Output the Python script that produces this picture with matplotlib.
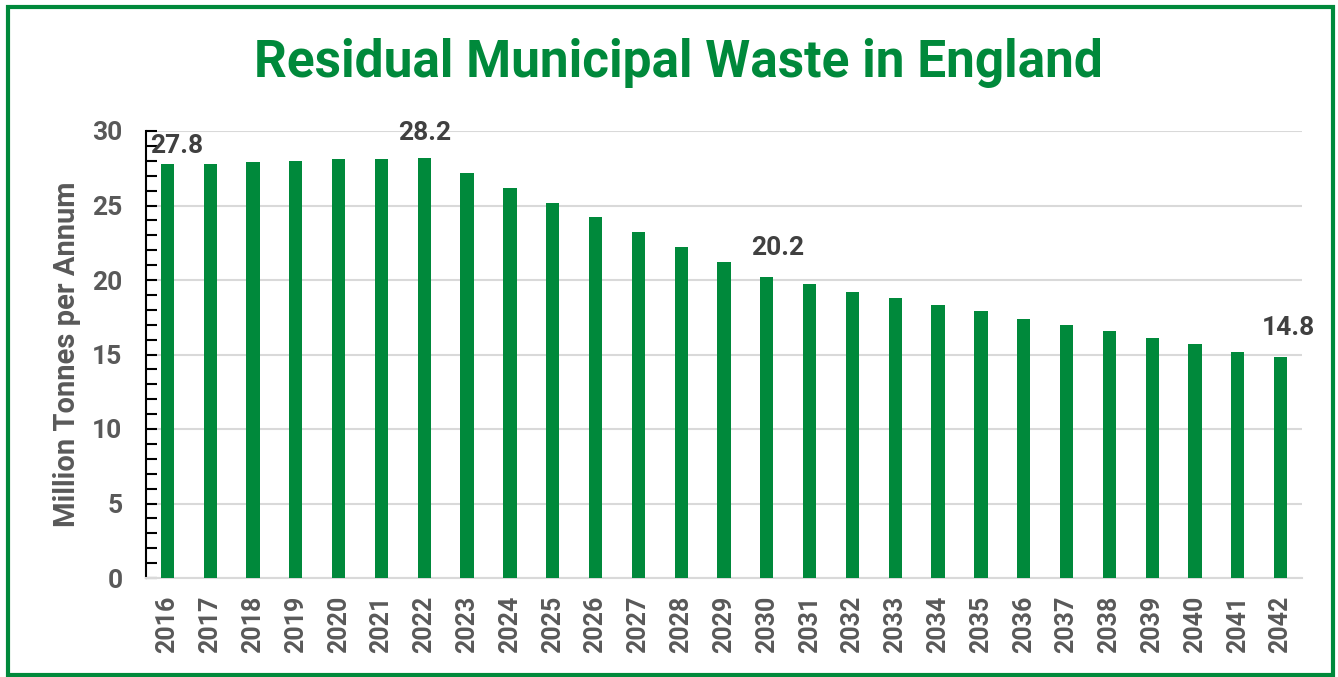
import numpy as np
import matplotlib.pyplot as plt
from matplotlib.patches import Rectangle
from matplotlib.ticker import MultipleLocator

years = [str(y) for y in range(2016, 2043)]
waste = [27.8, 27.8, 27.9, 28.0, 28.1, 28.1, 28.2, 27.2, 26.2, 25.2,
         24.2, 23.2, 22.2, 21.2, 20.2, 19.7, 19.2, 18.8, 18.3, 17.9,
         17.4, 17.0, 16.6, 16.1, 15.7, 15.2, 14.8]
# labelled bars: (year, text, x offset, y offset) in points
labels = [("2016", "27.8", 7, 13), ("2022", "28.2", 0, 18),
          ("2030", "20.2", 8, 21), ("2042", "14.8", 6, 21)]

green = '#00893B'
grey = '#595959'
plt.rcParams['font.family'] = ['Roboto', 'DejaVu Sans']

fig = plt.figure(figsize=(13.38, 6.77), dpi=100)
ax = fig.add_axes([146/1338, 1 - 578/677, (1302-146)/1338, (578-131)/677])

x = np.arange(len(years))
ax.bar(x, waste, width=0.31, color=green, zorder=3)

ax.set_xlim(-0.5, len(years) - 0.5)
ax.set_ylim(0, 30)
ax.set_xticks(x)
ax.set_xticklabels(years, rotation=90, fontsize=18, fontweight='bold', color=grey)
ax.yaxis.set_major_locator(MultipleLocator(5))
ax.yaxis.set_minor_locator(MultipleLocator(1))
ax.tick_params(axis='y', which='both', direction='in', length=8, width=1.5,
               labelsize=19, labelcolor=grey, pad=17)
ax.tick_params(axis='x', length=0, pad=13)
for t in ax.get_yticklabels():
    t.set_fontweight('bold')
ax.grid(axis='y', color='#D9D9D9', linewidth=1.5, zorder=0)

for s in ['top', 'right']:
    ax.spines[s].set_visible(False)
ax.spines['bottom'].set_color('#D9D9D9')
ax.spines['bottom'].set_linewidth(1.5)
ax.spines['left'].set_color('black')
ax.spines['left'].set_linewidth(1.5)

ax.set_ylabel('Million Tonnes per Annum', fontsize=21, fontweight='bold',
              color=grey, labelpad=8)

for yr, txt, dx, dy in labels:
    i = years.index(yr)
    ax.annotate(txt, (x[i], waste[i]), xytext=(dx, dy), textcoords='offset points',
                ha='center', va='center', fontsize=19, fontweight='bold',
                color='#404040')

fig.text(0.507, 1 - 63/677, 'Residual Municipal Waste in England', ha='center',
         va='center', fontsize=37, fontweight='bold', color=green)

fig.patches.append(Rectangle((8/1338, 1 - 675/677), 1325/1338, 668/677,
                             transform=fig.transFigure, fill=False,
                             edgecolor=green, linewidth=3))

fig.savefig('out.png', dpi=100)
